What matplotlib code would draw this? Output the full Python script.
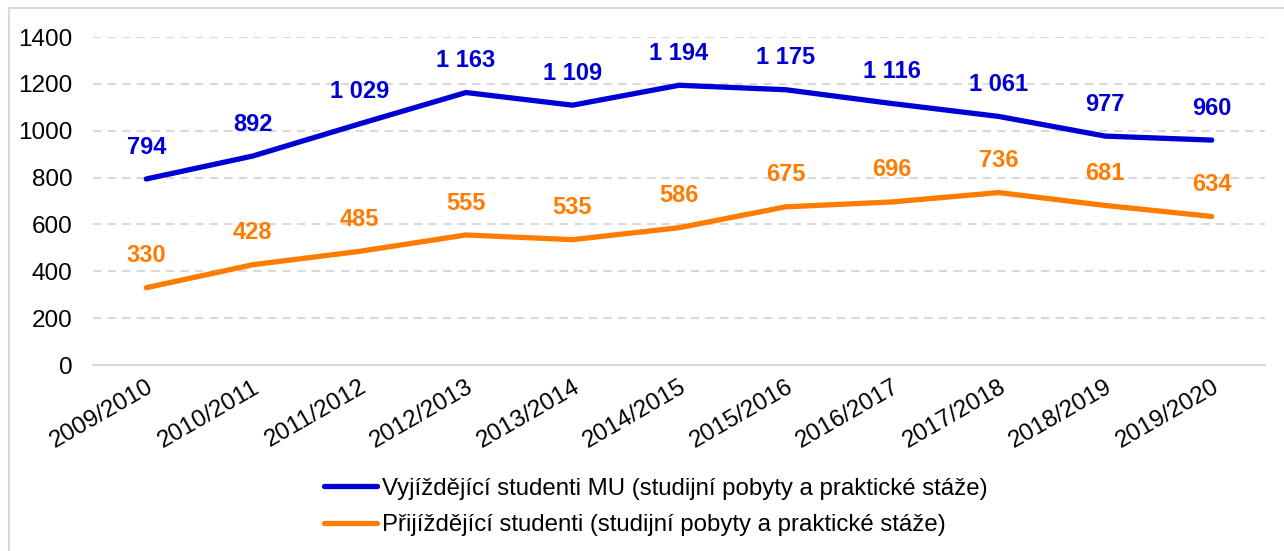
from matplotlib import pyplot as plt
from matplotlib.patches import Rectangle

plt.rcParams['font.family'] = ['Liberation Sans', 'DejaVu Sans']

# data
roky = ['2009/2010', '2010/2011', '2011/2012', '2012/2013', '2013/2014', '2014/2015',
        '2015/2016', '2016/2017', '2017/2018', '2018/2019', '2019/2020']
vyjizdejici = [794, 892, 1029, 1163, 1109, 1194, 1175, 1116, 1061, 977, 960]
prijizdejici = [330, 428, 485, 555, 535, 586, 675, 696, 736, 681, 634]

modra = '#0000D4'
oranzova = '#FF7C00'

fig = plt.figure(figsize=(12.84, 5.51), dpi=100)
ax = fig.add_axes([93/1284, 1 - 365/551, (1265 - 93)/1284, 328/551])

# ramecek kolem grafu
fig.patches.append(Rectangle((9/1284, -0.1), 1.2, 1 - 8/551 + 0.1, transform=fig.transFigure,
                             fill=False, edgecolor='#D9D9D9', linewidth=1.5))

x = range(len(roky))
ax.plot(x, vyjizdejici, color=modra, linewidth=3.8, solid_capstyle='round',
        label='Vyjíždějící studenti MU (studijní pobyty a praktické stáže)')
ax.plot(x, prijizdejici, color=oranzova, linewidth=3.8, solid_capstyle='round',
        label='Přijíždějící studenti (studijní pobyty a praktické stáže)')

def fmt(v):
    return '{:,}'.format(v).replace(',', ' ')

for i in x:
    ax.annotate(fmt(vyjizdejici[i]), (i, vyjizdejici[i]), xytext=(0, 23), textcoords='offset points',
                ha='center', va='center', color=modra, fontsize=17, fontweight='bold')
    ax.annotate(fmt(prijizdejici[i]), (i, prijizdejici[i]), xytext=(0, 23), textcoords='offset points',
                ha='center', va='center', color=oranzova, fontsize=17, fontweight='bold')

ax.set_xlim(-0.5, len(roky) - 0.5)
ax.set_ylim(0, 1400)
ax.set_yticks(range(0, 1401, 200))
ax.set_xticks(list(x))
ax.set_xticklabels(roky, rotation=30, ha='right', rotation_mode='anchor', fontsize=17.5)
ax.tick_params(axis='y', labelsize=17.5, length=0, pad=15)
ax.tick_params(axis='x', length=0, pad=8)

ax.grid(axis='y', color='#D9D9D9', linestyle=(0, (4, 3)), linewidth=1.5)
ax.set_axisbelow(True)
for s in ['top', 'right', 'left']:
    ax.spines[s].set_visible(False)
ax.spines['bottom'].set_color('#D9D9D9')
ax.spines['bottom'].set_linewidth(1.5)

fig.legend(loc='upper center', bbox_to_anchor=(0.511, 1 - 456/551), ncol=1, frameon=False,
           fontsize=17.3, handlelength=2.2, handletextpad=0.2, labelspacing=0.6)

fig.savefig('out.png', dpi=100)
